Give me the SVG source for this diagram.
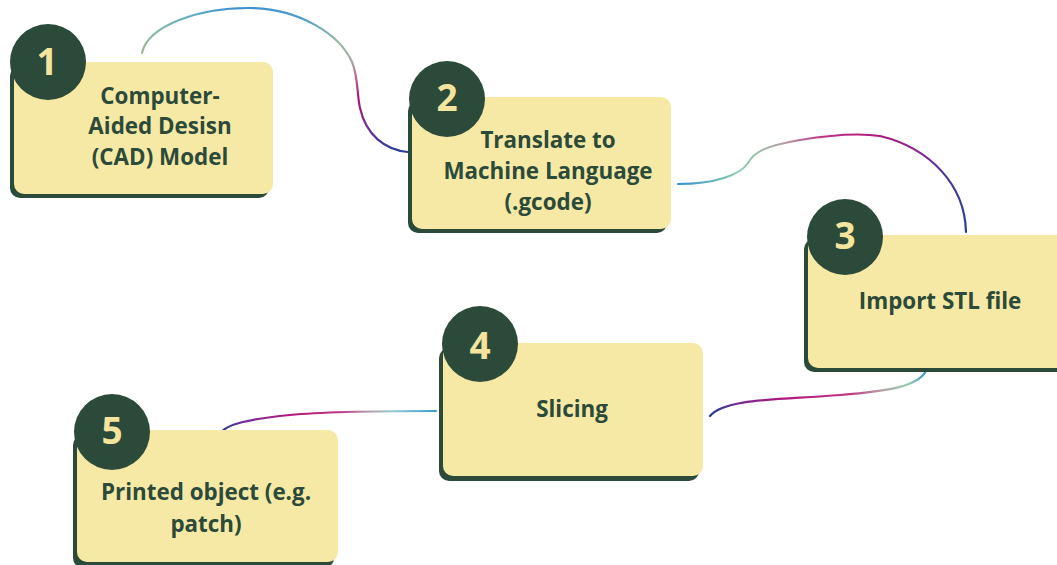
<svg xmlns="http://www.w3.org/2000/svg" width="1057" height="565" viewBox="0 0 1057 565">
  <defs>
    <style>
      .shadow { fill: #2c4a3a; }
      .card { fill: #f5e9a5; }
      .badge { fill: #2c4a3a; }
      .num { font-family: "Open Sans", "Noto Sans", sans-serif; font-weight: 700; font-size: 37px; fill: #f5e49e; text-anchor: middle; }
      .label { font-family: "Open Sans", "Noto Sans", sans-serif; font-weight: 700; font-size: 22.4px; fill: #2c4a3a; text-anchor: middle; }
      .wire { fill: none; stroke-width: 2.2; stroke-linecap: round; }
    </style>
    <linearGradient id="g1a" gradientUnits="userSpaceOnUse" x1="142" y1="0" x2="352" y2="0">
      <stop offset="0" stop-color="#9cb89c"/>
      <stop offset="0.22" stop-color="#62b0c2"/>
      <stop offset="0.45" stop-color="#3a90d2"/>
      <stop offset="0.75" stop-color="#4d9bd0"/>
      <stop offset="0.94" stop-color="#93bba2"/>
      <stop offset="1" stop-color="#a6a6a2"/>
    </linearGradient>
    <linearGradient id="g1b" gradientUnits="userSpaceOnUse" x1="0" y1="62" x2="0" y2="152">
      <stop offset="0" stop-color="#a6a6a2"/>
      <stop offset="0.15" stop-color="#c06a92"/>
      <stop offset="0.38" stop-color="#b0187e"/>
      <stop offset="0.68" stop-color="#782a92"/>
      <stop offset="1" stop-color="#2a3e90"/>
    </linearGradient>
    <linearGradient id="g2" gradientUnits="userSpaceOnUse" x1="678" y1="0" x2="966" y2="0">
      <stop offset="0" stop-color="#3a8fd2"/>
      <stop offset="0.22" stop-color="#8fd0b0"/>
      <stop offset="0.36" stop-color="#b4a2a4"/>
      <stop offset="0.5" stop-color="#c03484"/>
      <stop offset="0.7" stop-color="#b0187c"/>
      <stop offset="0.86" stop-color="#782a92"/>
      <stop offset="1" stop-color="#2a4092"/>
    </linearGradient>
    <linearGradient id="g3" gradientUnits="userSpaceOnUse" x1="926" y1="0" x2="710" y2="0">
      <stop offset="0" stop-color="#3a90d2"/>
      <stop offset="0.08" stop-color="#90d0b0"/>
      <stop offset="0.2" stop-color="#b4a2a4"/>
      <stop offset="0.36" stop-color="#c03484"/>
      <stop offset="0.66" stop-color="#b0187c"/>
      <stop offset="0.86" stop-color="#782a92"/>
      <stop offset="1" stop-color="#2a4092"/>
    </linearGradient>
    <linearGradient id="g4" gradientUnits="userSpaceOnUse" x1="436" y1="0" x2="220" y2="0">
      <stop offset="0" stop-color="#3a9ad2"/>
      <stop offset="0.2" stop-color="#90c8d2"/>
      <stop offset="0.3" stop-color="#b4a2b0"/>
      <stop offset="0.45" stop-color="#c03484"/>
      <stop offset="0.7" stop-color="#b0187c"/>
      <stop offset="0.9" stop-color="#6a3098"/>
      <stop offset="1" stop-color="#2a4092"/>
    </linearGradient>
  </defs>

  <rect width="1057" height="565" fill="#ffffff"/>

  <!-- connectors between steps -->
  <g id="connectors">
    <path class="wire" stroke="url(#g1a)" d="M142,53 C148,25 200,8 248,8 C300,8 340,35 352,62"/>
    <path class="wire" stroke="url(#g1b)" d="M352,62 C358,75 357,95 360,108 C366,135 385,150 408,152"/>
    <path class="wire" stroke="url(#g2)" d="M678,184 C715,184 740,175 748,163 C754,152 765,146 800,140 C830,135 860,133 880,136 C930,148 965,185 966,232"/>
    <path class="wire" stroke="url(#g3)" d="M926,371 C918,386 890,391 840,395 C780,400 725,398 710,416"/>
    <path class="wire" stroke="url(#g4)" d="M436,411 C400,411 330,411 290,415 C250,419 225,424 220,434"/>
  </g>

  <g id="step1">
    <rect class="shadow" x="10" y="66" width="259" height="132" rx="10"/>
    <rect class="card" x="14" y="62" width="259" height="132" rx="10"/>
    <circle class="badge" cx="48" cy="62" r="38"/>
    <text class="num" x="47" y="75">1</text>
    <text class="label" x="160" y="104">Computer-</text>
    <text class="label" x="160" y="134">Aided Desisn</text>
    <text class="label" x="160" y="165">(CAD) Model</text>
  </g>

  <g id="step2">
    <rect class="shadow" x="408" y="101" width="259" height="132" rx="10"/>
    <rect class="card" x="412" y="97" width="259" height="132" rx="10"/>
    <circle class="badge" cx="447" cy="99" r="38"/>
    <text class="num" x="447" y="111">2</text>
    <text class="label" x="548" y="148">Translate to</text>
    <text class="label" x="548" y="179">Machine Language</text>
    <text class="label" x="548" y="210">(.gcode)</text>
  </g>

  <g id="step3">
    <rect class="shadow" x="804" y="239" width="264" height="133" rx="10"/>
    <rect class="card" x="808" y="235" width="264" height="133" rx="10"/>
    <circle class="badge" cx="845" cy="237" r="38"/>
    <text class="num" x="845" y="249">3</text>
    <text class="label" x="940" y="309">Import STL file</text>
  </g>

  <g id="step4">
    <rect class="shadow" x="439" y="348" width="260" height="133" rx="10"/>
    <rect class="card" x="443" y="343" width="260" height="133" rx="10"/>
    <circle class="badge" cx="480" cy="344" r="38"/>
    <text class="num" x="480" y="359">4</text>
    <text class="label" x="572" y="417">Slicing</text>
  </g>

  <g id="step5">
    <rect class="shadow" x="73" y="435" width="261" height="133" rx="10"/>
    <rect class="card" x="77" y="430" width="261" height="132" rx="10"/>
    <circle class="badge" cx="112" cy="432" r="38"/>
    <text class="num" x="112" y="444">5</text>
    <text class="label" x="206" y="500">Printed object (e.g.</text>
    <text class="label" x="206" y="532">patch)</text>
  </g>
</svg>
